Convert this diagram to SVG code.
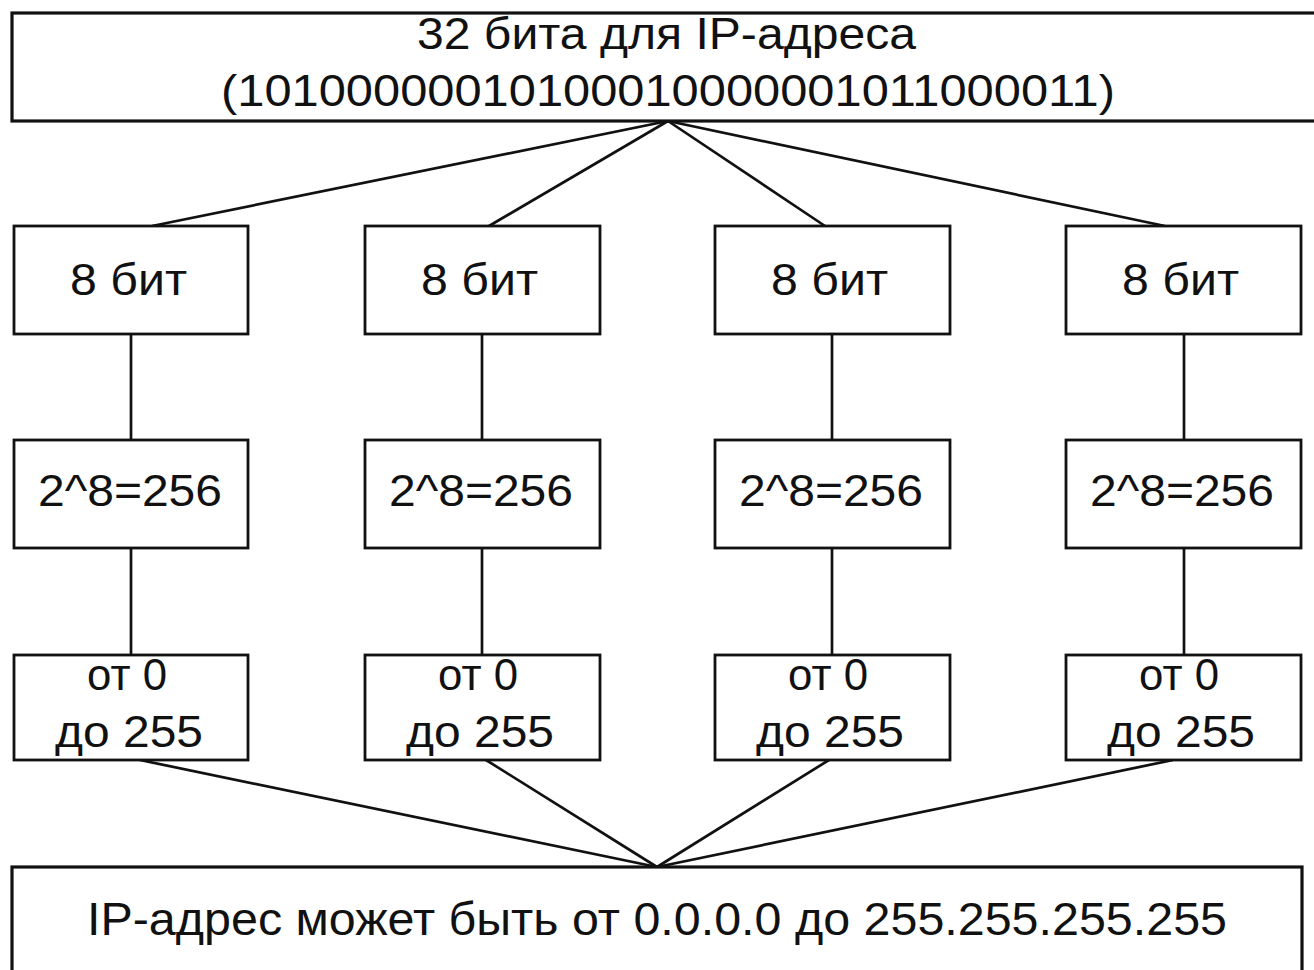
<svg xmlns="http://www.w3.org/2000/svg" width="1314" height="970" viewBox="0 0 1314 970">
  <style>
    .box { fill: #ffffff; stroke: #111111; stroke-width: 2.8; }
    .wide { stroke-width: 3.2; }
    .lbl { font-family: "Liberation Sans", Arial, sans-serif; font-size: 44px; fill: #111111; text-anchor: middle; }
    .big { font-size: 46px; }
    .link { stroke: #111111; stroke-width: 2.7; fill: none; }
  </style>
  <rect x="0" y="0" width="1314" height="970" fill="#ffffff"/>

  <!-- connectors -->
  <g id="connectors">
    <line class="link" x1="668" y1="121" x2="152" y2="226"/>
    <line class="link" x1="668" y1="121" x2="489" y2="226"/>
    <line class="link" x1="668" y1="121" x2="825" y2="226"/>
    <line class="link" x1="668" y1="121" x2="1165" y2="226"/>

    <line class="link" x1="131" y1="334" x2="131" y2="440"/>
    <line class="link" x1="482" y1="334" x2="482" y2="440"/>
    <line class="link" x1="832" y1="334" x2="832" y2="440"/>
    <line class="link" x1="1184" y1="334" x2="1184" y2="440"/>

    <line class="link" x1="131" y1="548" x2="131" y2="655"/>
    <line class="link" x1="482" y1="548" x2="482" y2="655"/>
    <line class="link" x1="832" y1="548" x2="832" y2="655"/>
    <line class="link" x1="1184" y1="548" x2="1184" y2="655"/>

    <line class="link" x1="140" y1="760" x2="657" y2="867"/>
    <line class="link" x1="486" y1="760" x2="657" y2="867"/>
    <line class="link" x1="829" y1="760" x2="657" y2="867"/>
    <line class="link" x1="1173" y1="760" x2="657" y2="867"/>
  </g>

  <!-- 32-bit address -->
  <g id="address32">
    <rect class="box wide" x="12" y="13" width="1320" height="108"/>
    <text class="lbl" x="666.5" y="49" textLength="499" lengthAdjust="spacingAndGlyphs">32 бита для IP-адреса</text>
    <text class="lbl" x="668" y="106" textLength="894" lengthAdjust="spacingAndGlyphs">(10100000010100010000001011000011)</text>
  </g>

  <!-- octet bit boxes -->
  <g id="bits1"><rect class="box" x="14" y="226" width="234" height="108"/><text class="lbl" x="128.5" y="295" textLength="117" lengthAdjust="spacingAndGlyphs">8 бит</text></g>
  <g id="bits2"><rect class="box" x="365" y="226" width="235" height="108"/><text class="lbl" x="479.5" y="295" textLength="117" lengthAdjust="spacingAndGlyphs">8 бит</text></g>
  <g id="bits3"><rect class="box" x="715" y="226" width="235" height="108"/><text class="lbl" x="829.5" y="295" textLength="117" lengthAdjust="spacingAndGlyphs">8 бит</text></g>
  <g id="bits4"><rect class="box" x="1066" y="226" width="235" height="108"/><text class="lbl" x="1180.5" y="295" textLength="117" lengthAdjust="spacingAndGlyphs">8 бит</text></g>

  <!-- value counts -->
  <g id="count1"><rect class="box" x="14" y="440" width="234" height="108"/><text class="lbl" x="130" y="506" textLength="184" lengthAdjust="spacingAndGlyphs">2^8=256</text></g>
  <g id="count2"><rect class="box" x="365" y="440" width="235" height="108"/><text class="lbl" x="481" y="506" textLength="184" lengthAdjust="spacingAndGlyphs">2^8=256</text></g>
  <g id="count3"><rect class="box" x="715" y="440" width="235" height="108"/><text class="lbl" x="831" y="506" textLength="184" lengthAdjust="spacingAndGlyphs">2^8=256</text></g>
  <g id="count4"><rect class="box" x="1066" y="440" width="235" height="108"/><text class="lbl" x="1182" y="506" textLength="184" lengthAdjust="spacingAndGlyphs">2^8=256</text></g>

  <!-- octet ranges -->
  <g id="range1"><rect class="box" x="14" y="655" width="234" height="105"/>
    <text class="lbl" x="127" y="690" textLength="80" lengthAdjust="spacingAndGlyphs">от 0</text>
    <text class="lbl" x="129" y="747" textLength="148" lengthAdjust="spacingAndGlyphs">до 255</text></g>
  <g id="range2"><rect class="box" x="365" y="655" width="235" height="105"/>
    <text class="lbl" x="478" y="690" textLength="80" lengthAdjust="spacingAndGlyphs">от 0</text>
    <text class="lbl" x="480" y="747" textLength="148" lengthAdjust="spacingAndGlyphs">до 255</text></g>
  <g id="range3"><rect class="box" x="715" y="655" width="235" height="105"/>
    <text class="lbl" x="828" y="690" textLength="80" lengthAdjust="spacingAndGlyphs">от 0</text>
    <text class="lbl" x="830" y="747" textLength="148" lengthAdjust="spacingAndGlyphs">до 255</text></g>
  <g id="range4"><rect class="box" x="1066" y="655" width="235" height="105"/>
    <text class="lbl" x="1179" y="690" textLength="80" lengthAdjust="spacingAndGlyphs">от 0</text>
    <text class="lbl" x="1181" y="747" textLength="148" lengthAdjust="spacingAndGlyphs">до 255</text></g>

  <!-- full address range -->
  <g id="addressRange">
    <rect class="box wide" x="12" y="867" width="1290" height="130"/>
    <text class="lbl big" x="657" y="935" textLength="1140" lengthAdjust="spacingAndGlyphs">IP-адрес может быть от 0.0.0.0 до 255.255.255.255</text>
  </g>
</svg>
